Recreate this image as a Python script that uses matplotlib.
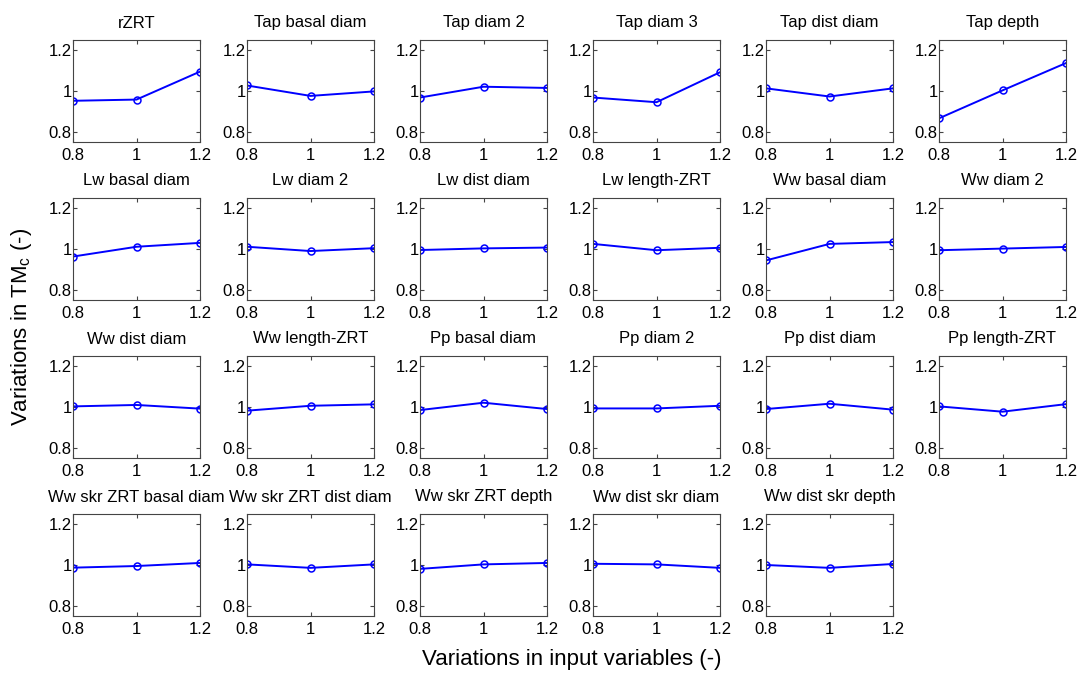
import numpy as np
import matplotlib.pyplot as plt

plt.rcParams['font.family'] = ['Liberation Sans', 'DejaVu Sans']
plt.rcParams['mathtext.fontset'] = 'custom'
plt.rcParams['mathtext.rm'] = 'Liberation Sans'

# input variation levels
x_levels = [0.8, 1.0, 1.2]

titles = ["rZRT", "Tap basal diam", "Tap diam 2", "Tap diam 3", "Tap dist diam", "Tap depth",
          "Lw basal diam", "Lw diam 2", "Lw dist diam", "Lw length-ZRT", "Ww basal diam", "Ww diam 2",
          "Ww dist diam", "Ww length-ZRT", "Pp basal diam", "Pp diam 2", "Pp dist diam", "Pp length-ZRT",
          "Ww skr ZRT basal diam", "Ww skr ZRT dist diam", "Ww skr ZRT depth",
          "Ww dist skr diam", "Ww dist skr depth"]

# relative TMc response for each variable at 0.8, 1.0, 1.2
row1_values = [[0.952, 0.958, 1.095],
               [1.027, 0.976, 0.998],
               [0.968, 1.021, 1.015],
               [0.968, 0.945, 1.092],
               [1.013, 0.973, 1.013],
               [0.866, 1.003, 1.137]]
row2_values = [[0.963, 1.011, 1.030],
               [1.011, 0.990, 1.004],
               [0.995, 1.003, 1.007],
               [1.025, 0.994, 1.006],
               [0.944, 1.025, 1.034],
               [0.994, 1.002, 1.010]]
row3_values = [[1.003, 1.010, 0.992],
               [0.982, 1.006, 1.013],
               [0.985, 1.021, 0.990],
               [0.993, 0.993, 1.006],
               [0.990, 1.016, 0.987],
               [1.003, 0.977, 1.014]]
row4_values = [[0.987, 0.995, 1.010],
               [1.003, 0.986, 1.003],
               [0.981, 1.003, 1.010],
               [1.006, 1.003, 0.986],
               [1.000, 0.986, 1.005]]

all_values = row1_values + row2_values + row3_values + row4_values

fig = plt.figure(figsize=(10.85, 6.73), dpi=100)
W, H = 1085, 673
col_left = [73, 247, 420, 593, 766, 939]
row_top = [40, 198, 356, 514]
ax_w, ax_h = 127, 102

for i, (title, vals) in enumerate(zip(titles, all_values)):
    r, c = divmod(i, 6)
    left = col_left[c] / W
    bottom = 1 - (row_top[r] + ax_h) / H
    ax = fig.add_axes([left, bottom, ax_w / W, ax_h / H])
    ax.plot(x_levels, vals, color='#0000ff', lw=1.4, marker='o',
            markersize=5, markerfacecolor='none', markeredgewidth=1.1)
    ax.set_xlim(0.8, 1.2)
    ax.set_ylim(0.75, 1.25)
    ax.set_xticks([0.8, 1.0, 1.2])
    ax.set_xticklabels(['0.8', '1', '1.2'])
    ax.set_yticks([0.8, 1.0, 1.2])
    ax.set_yticklabels(['0.8', '1', '1.2'])
    ax.tick_params(direction='in', top=True, right=True, length=3,
                   labelsize=12, color='#444444')
    ax.tick_params(axis='x', pad=4)
    ax.tick_params(axis='y', pad=1)
    for s in ax.spines.values():
        s.set_color('#444444')
        s.set_linewidth(0.8)
    ax.set_title(title, fontsize=12, pad=9)

fig.text(22 / W, 1 - 327 / H, r'Variations in TM$_\mathregular{c}$ (-)', rotation=90,
         fontsize=16, ha='center', va='center')
fig.text(572 / W, 1 - 660 / H, 'Variations in input variables (-)',
         fontsize=16, ha='center', va='center')

fig.savefig('out.png', dpi=100)
